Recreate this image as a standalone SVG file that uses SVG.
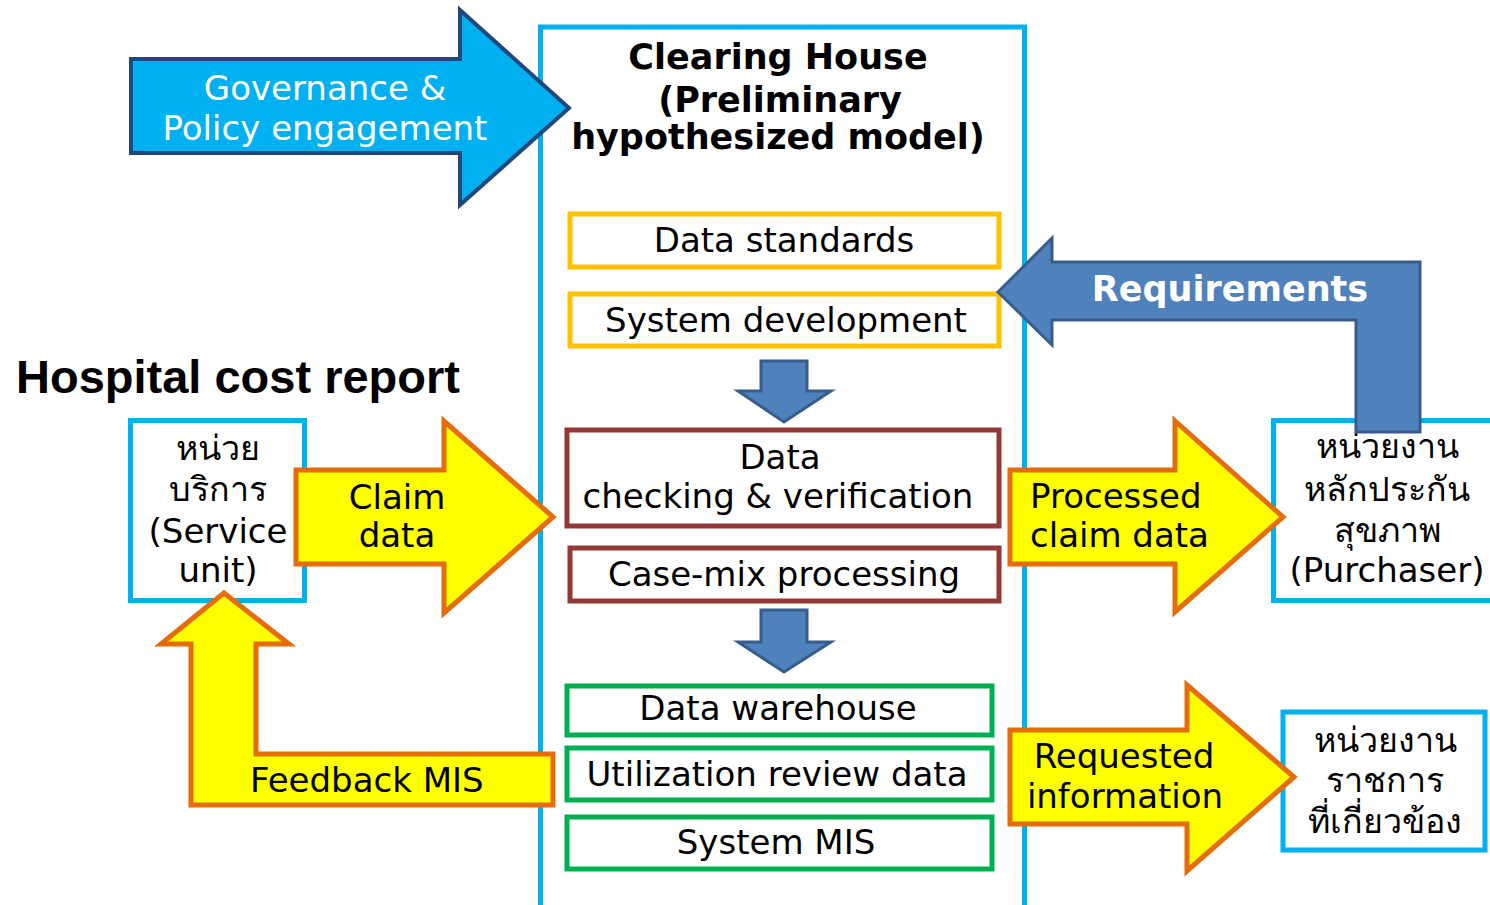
<svg xmlns="http://www.w3.org/2000/svg" width="1490" height="905" viewBox="0 0 1490 905">
<style>
text{font-family:"DejaVu Sans","Noto Sans",sans-serif;font-size:34px;fill:#000;}
.c{text-anchor:middle;}
.b{font-weight:bold;font-size:35px;}
.w{fill:#fff;}
.h{font-family:"Liberation Sans",Arial,sans-serif;font-size:47px;font-weight:bold;}
.box{fill:#fff;stroke-width:5;}
.cyan{stroke:#00B0F0;}
.orng{stroke:#FFC000;}
.brwn{stroke:#953735;}
.grn{stroke:#00B050;}
.ya{fill:#FFFF00;stroke:#E46C0A;stroke-width:5;stroke-linejoin:miter;}
.ba{fill:#4F81BD;stroke:#385D8A;stroke-width:3;}
</style>
<rect width="1490" height="905" fill="#fff"/>

<g id="clearing-house">
<rect class="box cyan" x="540.5" y="27" width="484" height="900" stroke-width="6"/>
<text class="c b" x="778" y="69">Clearing House</text>
<text class="c b" x="780" y="112">(Preliminary</text>
<text class="c b" x="778" y="149">hypothesized model)</text>
</g>

<g id="data-standards">
<rect class="box orng" x="570" y="214" width="429" height="53"/>
<text class="c" x="784" y="252">Data standards</text>
</g>
<g id="system-development">
<rect class="box orng" x="570" y="294" width="429" height="52"/>
<text class="c" x="786" y="332">System development</text>
</g>
<g id="data-checking">
<rect class="box brwn" x="567" y="430" width="432" height="96"/>
<text class="c" x="780" y="469">Data</text>
<text class="c" x="778" y="508">checking &amp; verification</text>
</g>
<g id="case-mix">
<rect class="box brwn" x="570" y="548" width="429" height="53"/>
<text class="c" x="784" y="586">Case-mix processing</text>
</g>
<g id="data-warehouse">
<rect class="box grn" x="567" y="686" width="425" height="49"/>
<text class="c" x="778" y="720">Data warehouse</text>
</g>
<g id="utilization-review">
<rect class="box grn" x="567" y="748" width="425" height="52"/>
<text class="c" x="777" y="786">Utilization review data</text>
</g>
<g id="system-mis">
<rect class="box grn" x="567" y="817" width="425" height="52"/>
<text class="c" x="776" y="854">System MIS</text>
</g>

<g id="hospital-cost-report">
<text class="h" x="16" y="393">Hospital cost report</text>
</g>

<g id="service-unit">
<rect class="box cyan" x="130.5" y="420.5" width="174" height="180"/>
<text class="c" x="218" y="460">หน่วย</text>
<text class="c" x="218" y="501">บริการ</text>
<text class="c" x="218" y="543">(Service</text>
<text class="c" x="218" y="582">unit)</text>
</g>

<g id="purchaser">
<rect class="box cyan" x="1273.5" y="420.5" width="230" height="180"/>
<text class="c" x="1387" y="458">หน่วยงาน</text>
<text class="c" x="1387" y="501">หลักประกัน</text>
<text class="c" x="1387" y="542">สุขภาพ</text>
<text class="c" x="1387" y="582">(Purchaser)</text>
</g>

<g id="government-agencies">
<rect class="box cyan" x="1283" y="712" width="202" height="138"/>
<text class="c" x="1385" y="752">หน่วยงาน</text>
<text class="c" x="1385" y="792">ราชการ</text>
<text class="c" x="1385" y="833">ที่เกี่ยวข้อง</text>
</g>

<g id="connectors">
<g id="governance-arrow">
<polygon points="131,59 460,59 460,10 569,108 460,205 460,153 131,153" fill="#00B0F0" stroke="#1F497D" stroke-width="4"/>
<text class="c w" x="325" y="100">Governance &amp;</text>
<text class="c w" x="325" y="140">Policy engagement</text>
</g>
<g id="claim-arrow">
<polygon class="ya" points="296,470 444,470 444,421 553,517 444,613 444,564 296,564"/>
<text class="c" x="397" y="509">Claim</text>
<text class="c" x="397" y="547">data</text>
</g>
<g id="processed-arrow">
<polygon class="ya" points="1010,470 1175,470 1175,421 1283,517 1175,612 1175,564 1010,564"/>
<text x="1030" y="508">Processed</text>
<text x="1030" y="547">claim data</text>
</g>
<g id="requested-arrow">
<polygon class="ya" points="1010,730 1187,730 1187,685 1294,777 1187,871 1187,824 1010,824"/>
<text class="c" x="1124" y="768">Requested</text>
<text class="c" x="1125" y="808">information</text>
</g>
<g id="feedback-arrow">
<polygon class="ya" points="224,593 289,644 256,644 256,754 553,754 553,805 191,805 191,644 161,644"/>
<text x="250" y="792">Feedback MIS</text>
</g>
<g id="requirements-arrow">
<polygon class="ba" points="998,292 1052,238 1052,262 1420,262 1420,432 1356,432 1356,320 1052,320 1052,345"/>
<text class="c b w" x="1230" y="301">Requirements</text>
</g>
<polygon class="ba" points="761,361 807,361 807,391 831,391 784,422 738,391 761,391"/>
<polygon class="ba" points="761,610 807,610 807,642 831,642 784,672 738,642 761,642"/>
</g>
</svg>
